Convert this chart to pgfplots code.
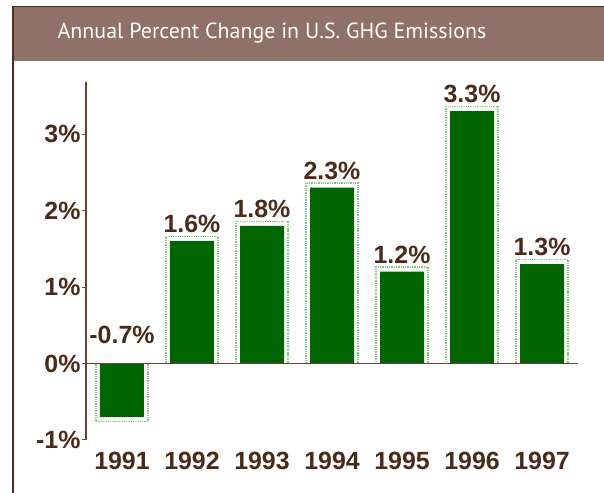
\documentclass[border=0pt]{standalone}
\usepackage{fontspec}
\setmainfont{Liberation Sans}
\newfontfamily\titlefont{PT Sans}
\usepackage{pgfplots}
\pgfplotsset{compat=1.18}
\definecolor{titlebg}{HTML}{8F7168}
\definecolor{framec}{HTML}{5C2A12}
\definecolor{txt}{HTML}{4A2A18}
\definecolor{axisc}{HTML}{6E4034}
\definecolor{barg}{HTML}{006400}
\definecolor{outl}{HTML}{80C880}
\begin{document}
\begin{tikzpicture}[x=1bp,y=1bp]
\useasboundingbox (0,0) rectangle (604,493);
\fill[white] (0,0) rectangle (604,493);
\fill[titlebg] (12,432) rectangle (604,486);
\draw[framec, line width=1.5bp] (12.75,0) -- (12.75,486.25) -- (604,486.25);
\node[text=white, font=\titlefont\fontsize{22}{26}\selectfont] at (272,460) {Annual Percent Change in U.S. GHG Emissions};
\begin{axis}[
  at={(86bp,53bp)}, anchor=south west, scale only axis,
  width=492bp, height=358bp,
  xmin=-0.514, xmax=6.514, ymin=-1, ymax=3.68,
  axis y line=left, axis x line*=bottom,
  x axis line style={draw=none},
  y axis line style={-, axisc, line width=1.5bp},
  clip=false,
  xtick={0,1,2,3,4,5,6},
  xticklabels={1991,1992,1993,1994,1995,1996,1997},
  xtick style={draw=none},
  xticklabel style={font=\fontsize{25}{25}\selectfont\bfseries, text=txt, yshift=-5bp},
  ytick={-1,0,1,2,3},
  yticklabels={-1\%,0\%,1\%,2\%,3\%},
  ytick style={axisc, line width=1bp},
  tick align=outside, major tick length=4bp,
  yticklabel style={font=\fontsize{25}{25}\selectfont\bfseries, text=txt, xshift=2bp},
]
% outer light outline
\addplot[ybar, bar width=52bp, bar shift=0pt, fill=white, draw=outl, densely dotted, line width=1.3bp,
  y filter/.expression={y<0 ? y-0.06 : y+0.06}]
  coordinates {(0,-0.7) (1,1.6) (2,1.8) (3,2.3) (4,1.2) (5,3.3) (6,1.3)};
% bars
\addplot[ybar, bar width=44bp, bar shift=0pt, fill=barg, draw=none]
  coordinates {(0,-0.7) (1,1.6) (2,1.8) (3,2.3) (4,1.2) (5,3.3) (6,1.3)};
% labels
\addplot[draw=none, mark=none, nodes near coords, point meta=explicit symbolic,
  every node near coord/.style={anchor=south, inner sep=0pt, yshift=8bp, text=txt, font=\fontsize{25}{25}\selectfont\bfseries}]
  coordinates {(0,0.15) [-0.7\%] (1,1.6) [1.6\%] (2,1.8) [1.8\%] (3,2.3) [2.3\%] (4,1.2) [1.2\%] (5,3.3) [3.3\%] (6,1.3) [1.3\%]};
\draw[axisc, line width=1.5bp] (axis cs:-0.514,0) -- (axis cs:6.514,0);
\end{axis}
\end{tikzpicture}
\end{document}
